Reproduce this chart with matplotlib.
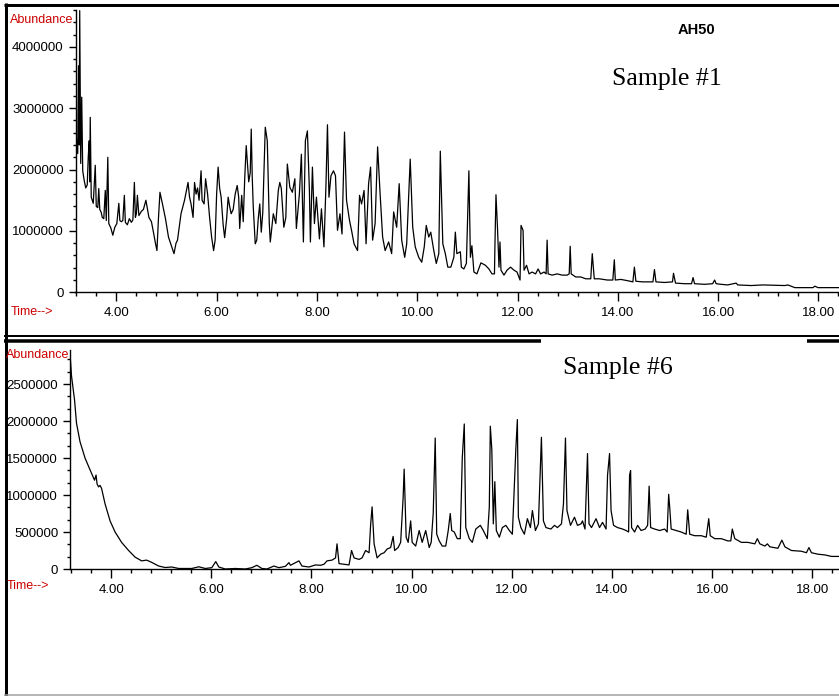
import matplotlib
matplotlib.use('Agg')
import matplotlib.pyplot as plt
from matplotlib.lines import Line2D
from matplotlib.ticker import MultipleLocator, FormatStrFormatter, FuncFormatter

# ── Data (abundance in millions) ─────────────────────────────────────
s1_time = [3.16, 3.20, 3.23, 3.246, 3.26, 3.27, 3.29, 3.31, 3.33, 3.36, 3.39, 3.42,
           3.44, 3.46, 3.47, 3.48, 3.50, 3.54, 3.58, 3.60, 3.63, 3.65, 3.67, 3.70,
           3.72, 3.75, 3.78, 3.80, 3.83, 3.85, 3.89, 3.93, 3.97, 4.01, 4.05, 4.07,
           4.10, 4.13, 4.16, 4.18, 4.22, 4.26, 4.30, 4.33, 4.36, 4.38, 4.40, 4.42,
           4.45, 4.50, 4.54, 4.59, 4.65, 4.70, 4.74, 4.78, 4.81, 4.84, 4.87, 4.92,
           4.98, 5.04, 5.10, 5.15, 5.19, 5.22, 5.26, 5.29, 5.36, 5.43, 5.46, 5.49,
           5.53, 5.56, 5.59, 5.62, 5.65, 5.69, 5.71, 5.75, 5.78, 5.82, 5.86, 5.90,
           5.94, 5.97, 6.00, 6.03, 6.06, 6.09, 6.13, 6.16, 6.20, 6.23, 6.26, 6.29,
           6.33, 6.37, 6.41, 6.44, 6.46, 6.48, 6.50, 6.53, 6.56, 6.59, 6.61, 6.64,
           6.67, 6.69, 6.71, 6.73, 6.77, 6.80, 6.83, 6.86, 6.89, 6.92, 6.94,
           6.97, 7.01, 7.05, 7.07, 7.13, 7.18, 7.23, 7.26, 7.29, 7.34, 7.38, 7.41,
           7.46, 7.51, 7.56, 7.59, 7.65, 7.69, 7.73, 7.77, 7.81, 7.85, 7.87, 7.91,
           7.95, 7.99, 8.05, 8.09, 8.14, 8.18, 8.21, 8.24, 8.28, 8.33, 8.37, 8.41,
           8.46, 8.50, 8.55, 8.59, 8.65, 8.69, 8.74, 8.81, 8.85, 8.89, 8.94, 8.98,
           9.03, 9.07, 9.11, 9.16, 9.21, 9.26, 9.31, 9.36, 9.43, 9.49, 9.53, 9.59,
           9.64, 9.69, 9.75, 9.79, 9.86, 9.91, 9.96, 10.03, 10.09, 10.14, 10.18, 10.23,
           10.27, 10.33, 10.38, 10.43, 10.46, 10.51, 10.56, 10.61, 10.67, 10.73, 10.76,
           10.79, 10.86, 10.88, 10.93, 10.98, 11.01, 11.03, 11.06, 11.09, 11.13, 11.19,
           11.27, 11.36, 11.43, 11.49, 11.54, 11.55, 11.57, 11.60, 11.63, 11.65, 11.67,
           11.73, 11.79, 11.86, 11.93, 11.99, 12.05, 12.07, 12.11, 12.13, 12.18, 12.23,
           12.29, 12.36, 12.41, 12.46, 12.53, 12.57, 12.59, 12.61, 12.69, 12.79, 12.89,
           12.99, 13.03, 13.05, 13.07, 13.16, 13.26, 13.36, 13.46, 13.49, 13.53, 13.63,
           13.79, 13.90, 13.93, 13.95, 14.06, 14.19, 14.30, 14.33, 14.36, 14.49, 14.70,
           14.73, 14.76, 14.93, 15.09, 15.11, 15.15, 15.33, 15.47, 15.50, 15.53, 15.73,
           15.89, 15.93, 15.96, 16.06, 16.19, 16.36, 16.39, 16.66, 16.89, 17.33, 17.39,
           17.53, 17.89, 17.93, 17.99, 18.44]
s1_abund = [2.80, 2.55, 2.26, 3.69, 2.40, 4.59, 2.10, 3.18, 1.98, 1.82, 1.70, 1.75,
            2.20, 2.47, 1.80, 2.85, 1.55, 1.45, 2.07, 1.40, 1.38, 1.69, 1.35, 1.30,
            1.22, 1.20, 1.66, 1.17, 2.20, 1.12, 1.05, 0.93, 1.06, 1.12, 1.45, 1.17,
            1.15, 1.17, 1.58, 1.14, 1.10, 1.20, 1.14, 1.18, 1.79, 1.22, 1.28, 1.58,
            1.25, 1.32, 1.35, 1.50, 1.22, 1.15, 0.98, 0.80, 0.68, 1.20, 1.63, 1.44,
            1.20, 0.90, 0.75, 0.63, 0.80, 0.85, 1.10, 1.28, 1.50, 1.79, 1.55, 1.44,
            1.22, 1.79, 1.60, 1.70, 1.50, 1.98, 1.50, 1.44, 1.85, 1.60, 1.22, 0.90,
            0.68, 0.85, 1.60, 2.04, 1.70, 1.55, 1.10, 0.89, 1.20, 1.55, 1.40, 1.28,
            1.35, 1.60, 1.74, 1.55, 1.04, 1.30, 1.58, 1.15, 1.85, 2.39, 2.15, 1.80,
            1.95, 2.66, 1.88, 1.40, 0.79, 0.85, 1.20, 1.44, 0.98, 1.30, 1.87,
            2.69, 2.47, 1.12, 0.82, 1.28, 1.12, 1.66, 1.79, 1.69, 1.06, 1.22, 2.09,
            1.71, 1.63, 1.85, 1.04, 1.60, 2.25, 0.82, 2.47, 2.63, 1.66, 0.82, 2.04,
            1.12, 1.55, 0.87, 1.36, 0.74, 1.74, 2.73, 1.55, 1.90, 1.98, 1.90, 1.01,
            1.28, 0.95, 2.61, 1.50, 1.17, 1.01, 0.79, 0.68, 1.58, 1.44, 1.66, 0.79,
            1.77, 2.04, 0.85, 1.12, 2.37, 1.60, 0.90, 0.68, 0.82, 0.63, 1.31, 1.06,
            1.77, 0.85, 0.57, 0.79, 2.17, 1.06, 0.74, 0.57, 0.49, 0.74, 1.09, 0.90,
            0.98, 0.68, 0.47, 0.63, 2.30, 0.79, 0.63, 0.41, 0.41, 0.57, 0.98,
            0.63, 0.66, 0.41, 0.38, 0.47, 1.41, 1.98, 0.57, 0.76, 0.33, 0.30,
            0.48, 0.44, 0.38, 0.30, 0.30, 0.79, 1.59, 1.06, 0.41, 0.82, 0.36,
            0.28, 0.36, 0.41, 0.36, 0.33, 0.20, 1.09, 1.01, 0.36, 0.44, 0.30,
            0.33, 0.30, 0.38, 0.30, 0.33, 0.30, 0.85, 0.30, 0.28, 0.30, 0.28,
            0.28, 0.30, 0.75, 0.30, 0.25, 0.25, 0.22, 0.22, 0.63, 0.22, 0.22,
            0.20, 0.20, 0.53, 0.20, 0.21, 0.19, 0.17, 0.41, 0.18, 0.17, 0.17,
            0.37, 0.17, 0.16, 0.17, 0.31, 0.15, 0.14, 0.14, 0.24, 0.14, 0.13,
            0.14, 0.20, 0.14, 0.13, 0.12, 0.15, 0.12, 0.11, 0.12, 0.11, 0.12,
            0.076, 0.076, 0.10, 0.076, 0.076]

s6_time = [3.18, 3.21, 3.27, 3.31, 3.38, 3.48, 3.58, 3.67, 3.70, 3.72, 3.75, 3.78,
           3.81, 3.88, 3.98, 4.08, 4.21, 4.35, 4.48, 4.61, 4.71, 4.81, 4.95, 5.08,
           5.21, 5.35, 5.61, 5.75, 5.88, 6.01, 6.09, 6.15, 6.28, 6.48, 6.68, 6.81,
           6.91, 7.01, 7.11, 7.25, 7.35, 7.48, 7.55, 7.58, 7.75, 7.81, 7.95, 8.08,
           8.18, 8.25, 8.31, 8.41, 8.48, 8.51, 8.55, 8.65, 8.75, 8.80, 8.85, 8.95,
           9.01, 9.08, 9.15, 9.18, 9.21, 9.25, 9.31, 9.38, 9.45, 9.51, 9.58, 9.63,
           9.66, 9.73, 9.78, 9.83, 9.85, 9.89, 9.93, 9.98, 10.01, 10.08, 10.15, 10.21,
           10.28, 10.35, 10.39, 10.43, 10.47, 10.50, 10.55, 10.61, 10.68, 10.73, 10.77,
           10.80, 10.85, 10.91, 10.97, 11.01, 11.05, 11.08, 11.15, 11.21, 11.28, 11.37,
           11.43, 11.51, 11.55, 11.57, 11.60, 11.63, 11.66, 11.69, 11.75, 11.81, 11.88,
           11.95, 12.01, 12.08, 12.11, 12.13, 12.18, 12.25, 12.31, 12.37, 12.41, 12.47,
           12.53, 12.57, 12.59, 12.63, 12.68, 12.78, 12.85, 12.91, 12.99, 13.03, 13.07,
           13.10, 13.17, 13.25, 13.31, 13.38, 13.41, 13.46, 13.49, 13.51, 13.54, 13.59,
           13.68, 13.75, 13.81, 13.88, 13.91, 13.95, 13.98, 14.03, 14.11, 14.21, 14.28,
           14.33, 14.35, 14.37, 14.39, 14.45, 14.51, 14.58, 14.66, 14.71, 14.74, 14.77,
           14.85, 14.95, 15.05, 15.10, 15.13, 15.15, 15.18, 15.28, 15.38, 15.48, 15.51,
           15.55, 15.65, 15.78, 15.88, 15.93, 15.96, 16.05, 16.18, 16.31, 16.37, 16.40,
           16.45, 16.58, 16.71, 16.85, 16.90, 16.95, 17.05, 17.10, 17.15, 17.31, 17.39,
           17.45, 17.58, 17.78, 17.88, 17.93, 17.98, 18.11, 18.25, 18.38, 18.56]
s6_abund = [2.91, 2.61, 2.29, 1.97, 1.72, 1.50, 1.34, 1.20, 1.27, 1.15, 1.11, 1.13,
            1.09, 0.88, 0.65, 0.50, 0.36, 0.25, 0.16, 0.11, 0.12, 0.09, 0.04, 0.02,
            0.027, 0.007, 0.007, 0.03, 0.007, 0.018, 0.10, 0.027, 0.0, 0.007, 0.0, 0.018,
            0.05, 0.007, 0.0, 0.04, 0.018, 0.036, 0.086, 0.05, 0.11, 0.04, 0.027, 0.055,
            0.05, 0.064, 0.11, 0.12, 0.15, 0.34, 0.073, 0.064, 0.055, 0.25, 0.15, 0.13,
            0.15, 0.25, 0.22, 0.59, 0.84, 0.34, 0.15, 0.20, 0.22, 0.27, 0.29, 0.44,
            0.25, 0.29, 0.36, 0.97, 1.35, 0.43, 0.36, 0.65, 0.36, 0.31, 0.52, 0.36,
            0.52, 0.29, 0.36, 0.75, 1.77, 0.47, 0.38, 0.31, 0.31, 0.52, 0.75,
            0.52, 0.50, 0.41, 0.41, 1.50, 1.96, 0.56, 0.41, 0.36, 0.54, 0.59,
            0.52, 0.41, 0.84, 1.93, 1.61, 0.61, 1.18, 0.52, 0.43, 0.56, 0.59,
            0.52, 0.47, 1.63, 2.02, 0.70, 0.56, 0.47, 0.68, 0.56, 0.79, 0.52,
            0.61, 1.38, 1.78, 0.65, 0.56, 0.54, 0.59, 0.56, 0.61, 0.88, 1.77,
            0.79, 0.59, 0.70, 0.59, 0.61, 0.65, 0.54, 1.13, 1.56, 0.61, 0.56,
            0.68, 0.56, 0.63, 0.54, 1.27, 1.56, 0.79, 0.59, 0.56, 0.54, 0.52,
            0.50, 1.27, 1.33, 0.56, 0.50, 0.59, 0.52, 0.54, 0.59, 1.12, 0.56,
            0.54, 0.52, 0.54, 0.50, 1.01, 0.84, 0.54, 0.52, 0.50, 0.47, 0.80,
            0.47, 0.45, 0.45, 0.43, 0.68, 0.45, 0.41, 0.41, 0.38, 0.38, 0.54,
            0.41, 0.36, 0.36, 0.34, 0.41, 0.34, 0.31, 0.34, 0.30, 0.28, 0.39,
            0.30, 0.25, 0.24, 0.22, 0.29, 0.22, 0.20, 0.19, 0.17, 0.17]

s1_yticks = [0, 1000000, 2000000, 3000000, 4000000]
s6_yticks = [0, 500000, 1000000, 1500000, 2000000, 2500000]
x_ticks = [4, 6, 8, 10, 12, 14, 16, 18]

# ── Layout helpers (pixel coords of the 839x696 screenshot) ──────────
W, H = 839, 696
RED = '#cc0000'
SANS = 'Liberation Sans'


def fx(px):
    return px / W


def fy(py):
    return 1 - py / H


fig = plt.figure(figsize=(W / 100, H / 100), dpi=100)
fig.patch.set_facecolor('white')


def style_axes(ax, yticks, yminor, xlim, ylim):
    ax.set_xlim(*xlim)
    ax.set_ylim(*ylim)
    for s in ('top', 'right'):
        ax.spines[s].set_visible(False)
    for s in ('left', 'bottom'):
        ax.spines[s].set_linewidth(1.0)
    ax.set_xticks(x_ticks)
    ax.xaxis.set_minor_locator(MultipleLocator(0.4))
    ax.xaxis.set_major_formatter(FormatStrFormatter('%.2f'))
    ax.set_yticks(yticks)
    ax.yaxis.set_minor_locator(MultipleLocator(yminor))
    ax.yaxis.set_major_formatter(FuncFormatter(lambda v, p: f'{int(round(v))}'))
    ax.tick_params(axis='x', which='major', direction='out', length=6.5, width=1, pad=4)
    ax.tick_params(axis='x', which='minor', direction='out', length=3, width=1)
    ax.tick_params(axis='y', which='major', direction='out', length=5, width=1, pad=3.5)
    ax.tick_params(axis='y', which='minor', direction='out', length=2.5, width=1)
    for lab in ax.get_xticklabels() + ax.get_yticklabels():
        lab.set_fontfamily(SANS)
        lab.set_fontsize(9.5)
    ax.patch.set_alpha(0)


# Sample #1
ax1 = fig.add_axes([fx(75.5), fy(292.3), fx(839 - 75.5), (292.3 - 10) / H])
ax1.plot(s1_time, [a * 1e6 for a in s1_abund], color='black', lw=0.9)
style_axes(ax1, s1_yticks, 200000, (3.186, 18.41), (0, 4.6e6))

# Sample #6
ax2 = fig.add_axes([fx(70), fy(569), fx(839 - 70), (569 - 350) / H])
ax2.plot(s6_time, [a * 1e6 for a in s6_abund], color='black', lw=0.9)
style_axes(ax2, s6_yticks, 500000 / 3, (3.18, 18.53), (0, 2.96e6))

# ── Labels ───────────────────────────────────────────────────────────
fig.text(fx(10), fy(23), 'Abundance', color=RED, fontsize=9, family=SANS, va='baseline')
fig.text(fx(11), fy(315), 'Time-->', color=RED, fontsize=9, family=SANS, va='baseline')
fig.text(fx(6), fy(358), 'Abundance', color=RED, fontsize=9, family=SANS, va='baseline')
fig.text(fx(7), fy(589), 'Time-->', color=RED, fontsize=9, family=SANS, va='baseline')

fig.text(fx(696), fy(30), 'AH50', fontsize=10.5, fontweight='bold', family=SANS,
         ha='center', va='center')
fig.text(fx(612), fy(85), 'Sample #1', fontsize=18.5, family='Liberation Serif', va='baseline')
fig.text(fx(563), fy(374), 'Sample #6', fontsize=18.5, family='Liberation Serif', va='baseline')

# ── Window frame lines ───────────────────────────────────────────────
def hline(y, x0, x1, lw_px, color='black'):
    fig.add_artist(Line2D([fx(x0), fx(x1)], [fy(y), fy(y)], color=color,
                          lw=lw_px * 0.72, solid_capstyle='butt'))


def vline(x, y0, y1, lw_px, color='black'):
    fig.add_artist(Line2D([fx(x), fx(x)], [fy(y0), fy(y1)], color=color,
                          lw=lw_px * 0.72, solid_capstyle='butt'))


hline(4.5, 4, 839, 3)
vline(5.5, 3, 696, 3)
hline(335.5, 4, 839, 2)
hline(340.5, 4, 541, 3.5)
hline(340.5, 807, 839, 3.5)
hline(694.5, 4, 839, 1.5, color='#a0a0a0')

fig.savefig('out.png', dpi=100)
